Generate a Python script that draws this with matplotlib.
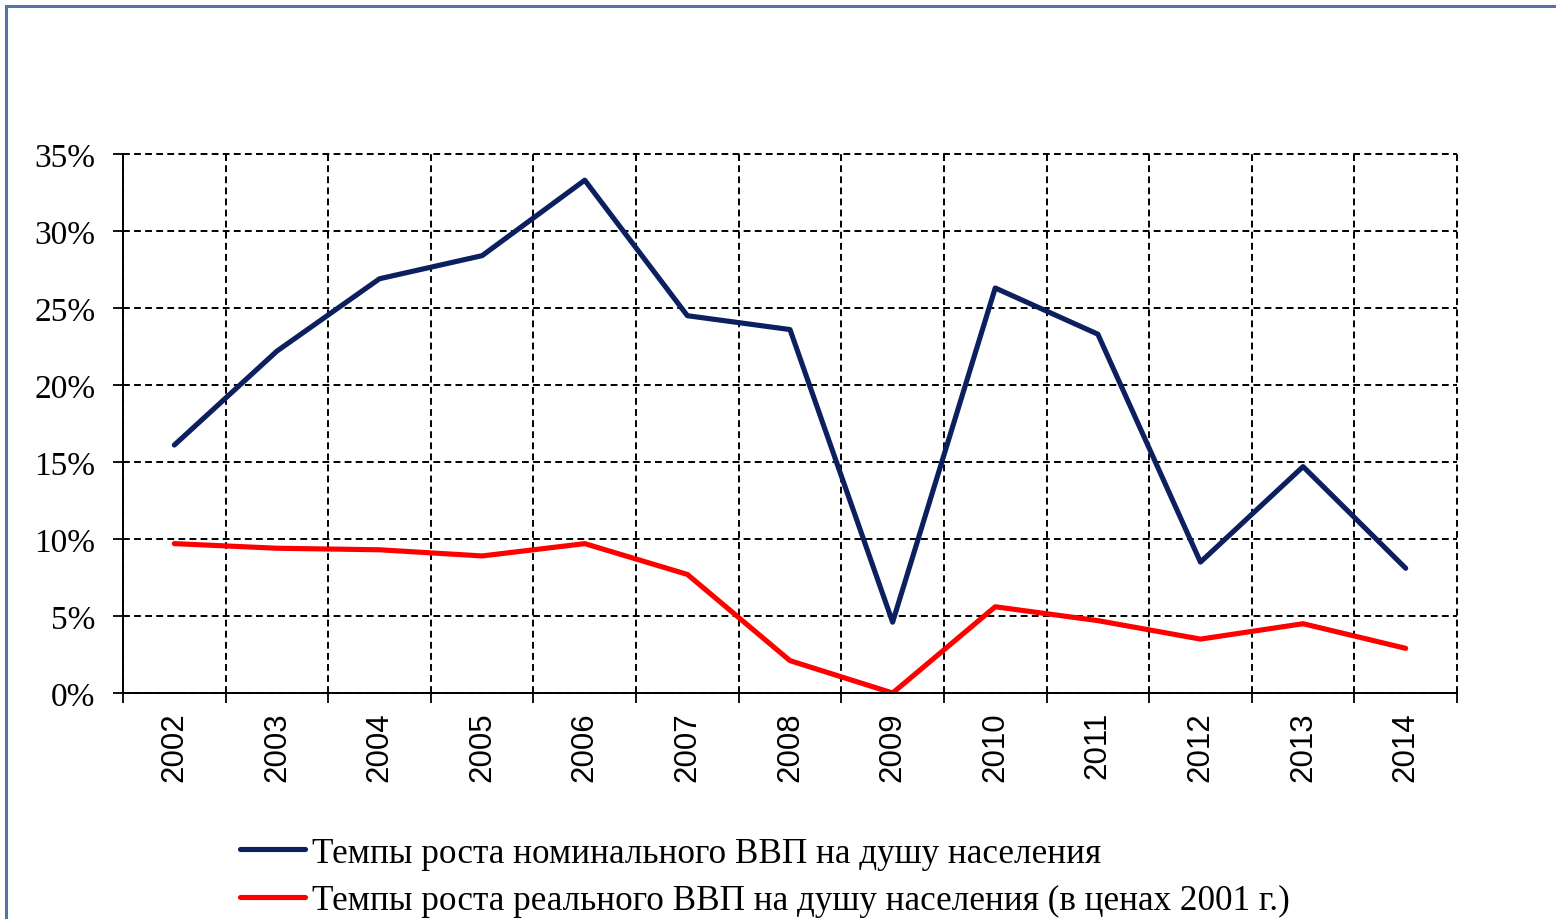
import matplotlib
matplotlib.use("Agg")
import matplotlib.pyplot as plt
from matplotlib.lines import Line2D
from matplotlib.ticker import FixedLocator, FuncFormatter

years = ["2002", "2003", "2004", "2005", "2006", "2007", "2008",
         "2009", "2010", "2011", "2012", "2013", "2014"]
nominal = [16.1, 22.2, 26.9, 28.4, 33.3, 24.5, 23.6, 4.6, 26.3, 23.3, 8.5, 14.7, 8.1]
real = [9.7, 9.4, 9.3, 8.9, 9.7, 7.7, 2.1, 0.0, 5.6, 4.7, 3.5, 4.5, 2.9]
y_ticks = [0, 5, 10, 15, 20, 25, 30, 35]
label_nominal = "Темпы роста номинального ВВП на душу населения"
label_real = "Темпы роста реального ВВП на душу населения (в ценах 2001 г.)"

W, H, DPI = 1556, 920, 100
fig = plt.figure(figsize=(W / DPI, H / DPI), dpi=DPI, facecolor="white")
ax = fig.add_axes([123 / W, 1 - 694 / H, (1457 - 123) / W, (694 - 155) / H])

x = list(range(len(years)))
ax.plot(x, nominal, color="#0c1f5e", lw=3.7, solid_capstyle="round",
        solid_joinstyle="round", label=label_nominal, zorder=3)
ax.plot(x, real, color="#ff0000", lw=3.7, solid_capstyle="round",
        solid_joinstyle="round", label=label_real, zorder=3)

ax.set_xlim(-0.5, len(years) - 0.5)
ax.set_ylim(0, 35)

ax.set_xticks(x)
ax.set_xticklabels(years, rotation=90, family="Liberation Sans", fontsize=22.5)
ax.xaxis.set_minor_locator(FixedLocator([i - 0.5 for i in range(len(years) + 1)]))
ax.tick_params(axis="x", which="major", length=0, pad=13)
ax.tick_params(axis="x", which="minor", length=7, width=1.3, direction="out")

ax.set_yticks(y_ticks)
ax.yaxis.set_major_formatter(FuncFormatter(lambda v, p: f"{v:.0f}%"))
ax.tick_params(axis="y", which="major", length=7, width=1.3, direction="out", pad=13)
for lbl in ax.get_yticklabels():
    lbl.set_family("Liberation Serif")
    lbl.set_fontsize(24)

ax.grid(False)
ax.xaxis.grid(True, which="minor", color="black", lw=1.4, linestyle=(0, (3.5, 2.2)))
ax.yaxis.grid(True, which="major", color="black", lw=1.4, linestyle=(0, (3.5, 2.2)))
for t in ax.xaxis.get_minor_ticks() + ax.yaxis.get_major_ticks():
    t.gridline.set_clip_on(False)

for s in ["top", "right"]:
    ax.spines[s].set_visible(False)
for s in ["left", "bottom"]:
    ax.spines[s].set_linewidth(1.4)
    ax.spines[s].set_color("black")
    ax.spines[s].set_zorder(4)

fig.legend(loc="center left", bbox_to_anchor=(240 / W, 1 - 878 / H),
           frameon=False, prop={"family": "Liberation Serif", "size": 25.3},
           handlelength=1.85, handletextpad=0.2, labelspacing=0.42,
           borderaxespad=0, borderpad=0)

# outer border (top and left edges visible)
border_kw = dict(color="#5473a8", lw=2.2, transform=fig.transFigure)
fig.add_artist(Line2D([6 / W, 1.0], [1 - 7 / H, 1 - 7 / H], **border_kw))
fig.add_artist(Line2D([6 / W, 6 / W], [0, 1 - 7 / H], **border_kw))

fig.savefig("out.png", dpi=DPI, facecolor="white")
